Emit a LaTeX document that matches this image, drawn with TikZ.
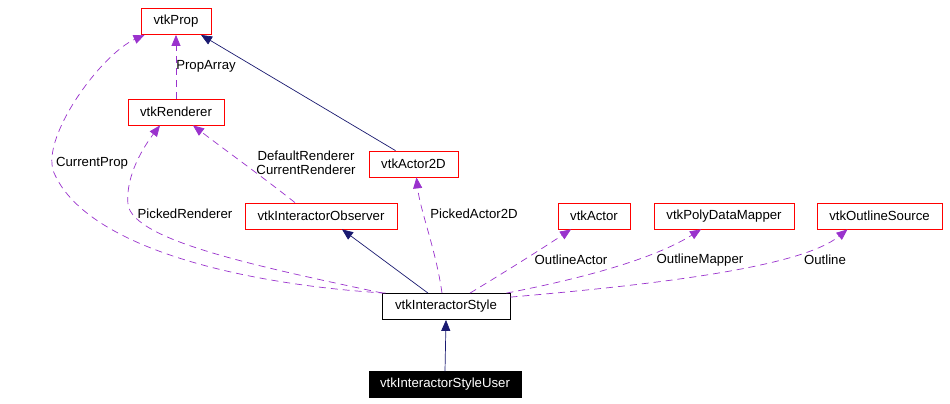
\documentclass[tikz,border=0pt]{standalone}
\usepackage{fontspec}
\setmainfont{Liberation Sans}
\usetikzlibrary{arrows.meta}
\definecolor{edgepurple}{HTML}{9A32CD}
\definecolor{edgenavy}{HTML}{191970}
\begin{document}
\begin{tikzpicture}[x=1pt,y=-1pt,
  cls/.style={draw=red, line width=0.8pt, fill=white, inner sep=0pt, minimum height=26pt, font=\fontsize{13.2}{15}\selectfont},
  plain/.style={draw=black, line width=0.8pt, fill=white, inner sep=0pt, minimum height=26pt, font=\fontsize{13.2}{15}\selectfont},
  focus/.style={draw=black, fill=black, text=white, inner sep=0pt, minimum height=26pt, font=\fontsize{13.2}{15}\selectfont},
  inherit/.style={draw=edgenavy, line width=0.7pt, -{Triangle[length=11pt,width=9pt]}},
  usage/.style={draw=edgepurple, line width=0.7pt, dash pattern=on 7pt off 5pt, -{Triangle[length=11pt,width=9pt]}},
  lbl/.style={font=\fontsize{13.2}{14.5}\selectfont, inner sep=0pt, align=center}]
\path[use as bounding box] (0,0) rectangle (950,404);
\fill[white] (0,0) rectangle (950,404);

\node[cls, minimum width=70pt] (prop) at (176,21.5) {vtkProp};
\node[cls, minimum width=96pt] (ren) at (176,112) {vtkRenderer};
\node[cls, minimum width=89pt] (a2d) at (413.5,164) {vtkActor2D};
\node[cls, minimum width=152pt] (obs) at (321,216) {vtkInteractorObserver};
\node[cls, minimum width=72pt] (act) at (594,216) {vtkActor};
\node[cls, minimum width=140pt] (pdm) at (724,216) {vtkPolyDataMapper};
\node[cls, minimum width=125pt] (ols) at (879.5,216) {vtkOutlineSource};
\node[plain, minimum width=128pt] (sty) at (446,306.5) {vtkInteractorStyle};
\node[focus, minimum width=152pt] (usr) at (445,384.5) {vtkInteractorStyleUser};

% inheritance
\draw[inherit] (usr.north) -- (sty.south);
\draw[inherit] ([xshift=-18pt]sty.north) -- ([xshift=21pt]obs.south);
\draw[inherit] ([xshift=-18pt]a2d.north) -- ([xshift=25pt]prop.south);

% usage
\draw[usage] (ren.north) -- (prop.south);
\node[lbl] (lPropArray) at (206,66) {PropArray};

\draw[usage] ([xshift=4pt]sty.north west) .. controls (250,285) and (90,250) .. (55,175)
  .. controls (37,142) and (100,55) .. ([xshift=4pt]prop.south west);
\node[lbl] (lCurrentProp) at (92,163) {CurrentProp};

\draw[usage] ([xshift=1pt]sty.north west) .. controls (250,265) and (135,240) .. (128,205)
  .. controls (125,175) and (145,145) .. ([xshift=-16pt]ren.south);
\node[lbl] (lPickedRenderer) at (185,214) {PickedRenderer};

\draw[usage] ([xshift=-26pt]obs.north) .. controls (260,175) and (225,150) .. ([xshift=17pt]ren.south);
\node[lbl] (lRen) at (306,163) {DefaultRenderer\\CurrentRenderer};

\draw[usage] ([xshift=-4pt]sty.north) .. controls (436,250) and (420,210) .. ([xshift=3pt]a2d.south);
\node[lbl] (lPickedActor2D) at (474,214) {PickedActor2D};

\draw[usage] ([xshift=24pt]sty.north) .. controls (500,275) and (540,250) .. ([xshift=-23pt]act.south);
\node[lbl] (lOutlineActor) at (571,260) {OutlineActor};

\draw[usage] ([xshift=-4pt]sty.north east) .. controls (600,275) and (660,255) .. ([xshift=-23pt]pdm.south);
\node[lbl] (lOutlineMapper) at (700,260) {OutlineMapper};

\draw[usage] ([yshift=-4pt]sty.north east) .. controls (650,285) and (800,268) .. ([xshift=-32pt]ols.south);
\node[lbl] (lOutline) at (825,260) {Outline};
\end{tikzpicture}
\end{document}
